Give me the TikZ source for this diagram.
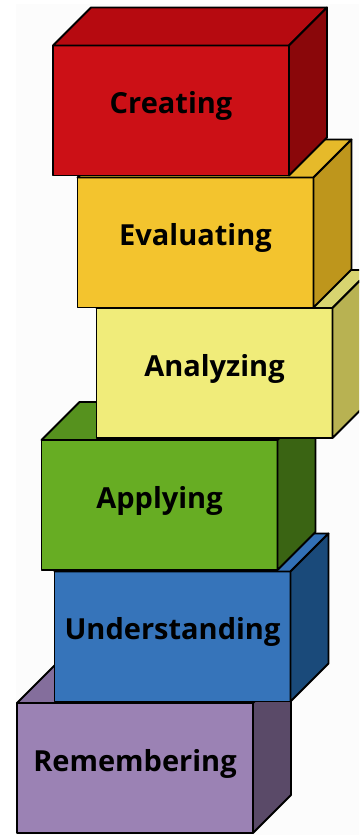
\documentclass[tikz,border=0pt]{standalone}
\usepackage{fontspec}
\setmainfont{Open Sans}

\definecolor{bgpage}{RGB}{252,252,252}
\definecolor{remfront}{RGB}{155,130,180}
\definecolor{remtop}{RGB}{132,110,156}
\definecolor{remside}{RGB}{90,74,104}
\definecolor{undfront}{RGB}{54,116,186}
\definecolor{undtop}{RGB}{50,112,182}
\definecolor{undside}{RGB}{26,74,122}
\definecolor{appfront}{RGB}{103,173,35}
\definecolor{apptop}{RGB}{86,146,30}
\definecolor{appside}{RGB}{58,100,19}
\definecolor{anafront}{RGB}{240,236,122}
\definecolor{anatop}{RGB}{216,212,112}
\definecolor{anaside}{RGB}{184,178,82}
\definecolor{evafront}{RGB}{243,196,46}
\definecolor{evatop}{RGB}{230,186,42}
\definecolor{evaside}{RGB}{190,150,28}
\definecolor{crefront}{RGB}{204,16,22}
\definecolor{cretop}{RGB}{182,10,16}
\definecolor{creside}{RGB}{138,7,10}

\begin{document}
\begin{tikzpicture}[x=1pt,y=1pt,line width=1.8pt,line join=round,
    face/.style={draw,minimum width=236pt,minimum height=130pt,inner sep=0pt,outer sep=0pt},
    lbl/.style={font=\fontsize{29}{32}\selectfont\bfseries,anchor=base}]

    \useasboundingbox (0,0) rectangle (359,-835);
    \clip (0,0) rectangle (359,-835);
    \fill[bgpage] (16,-4) rectangle (359,-835);

    % bottom block first, each one above covers the one below
    \foreach \name/\cx/\cy/\col/\txt in {rem/135/-768/rem/Remembering,
        und/172.5/-636.5/und/Understanding,
        app/159.5/-505/app/Applying,
        ana/214.5/-373/ana/Analyzing,
        eva/195.5/-242.5/eva/Evaluating,
        cre/171/-110.5/cre/Creating}
        {
        \node[face,fill=\col front] (\name) at (\cx,\cy) {};
        \draw[fill=\col top] (\name.north west) -- ++(38,38)
            -- ([shift={(38,38)}]\name.north east) -- (\name.north east) -- cycle;
        \draw[fill=\col side] (\name.north east) -- ++(38,38)
            -- ([shift={(38,38)}]\name.south east) -- (\name.south east) -- cycle;
        \node[lbl] (\name-t) at ([yshift=-3]\name.center) {\txt};
        }

\end{tikzpicture}
\end{document}
